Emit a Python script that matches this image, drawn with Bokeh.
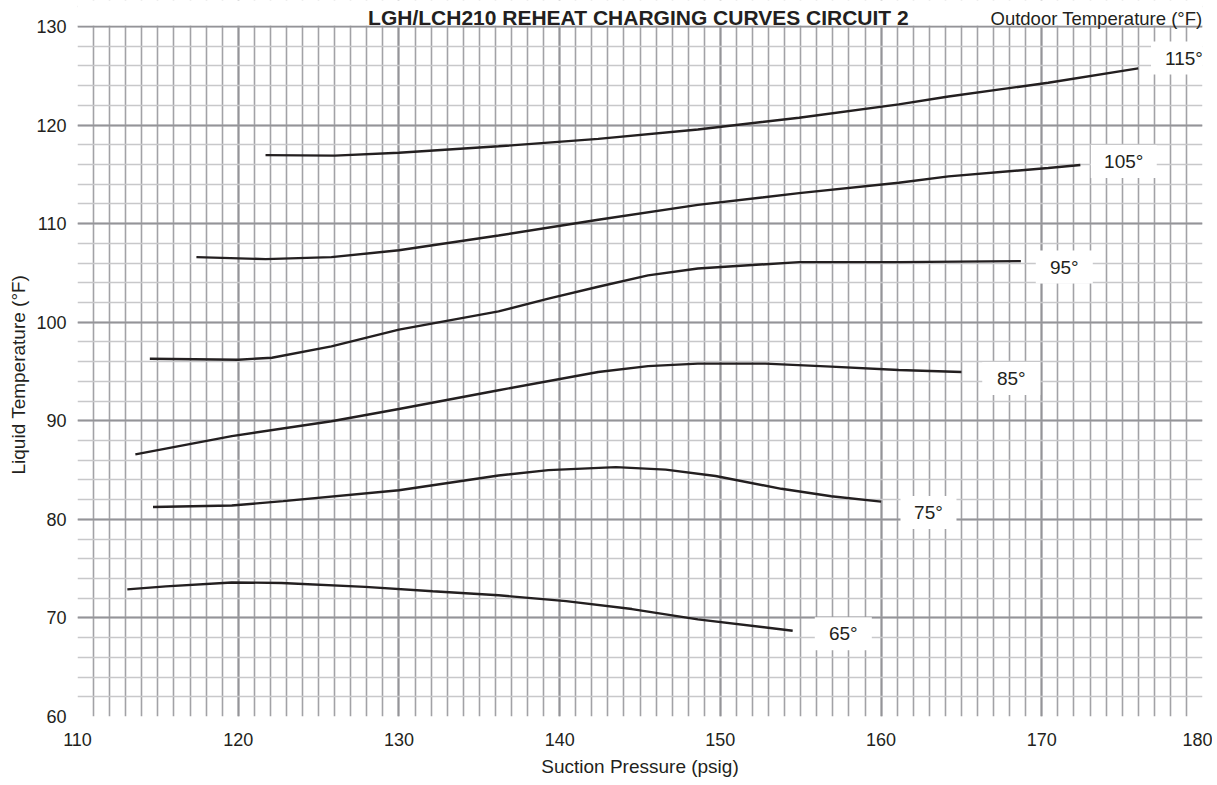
from bokeh.plotting import figure
from bokeh.models import Range1d, SingleIntervalTicker, Label, Title
from bokeh.embed import file_html
from bokeh.resources import INLINE

# ---- data ----
p115 = [121.7, 126.0, 130.0, 136.2, 142.4, 148.6, 154.9, 161.1, 164.2, 170.4, 176.0]
t115 = [116.95, 116.9, 117.2, 117.85, 118.6, 119.55, 120.75, 122.1, 122.9, 124.3, 125.75]

p105 = [117.4, 121.7, 125.8, 130.0, 136.2, 142.4, 148.6, 154.9, 161.1, 164.2, 170.4, 172.4]
t105 = [106.6, 106.4, 106.6, 107.3, 108.8, 110.4, 111.9, 113.1, 114.15, 114.8, 115.65, 115.95]

p95 = [114.5, 120.0, 122.1, 125.8, 130.0, 136.2, 139.3, 142.4, 145.5, 148.6, 154.9, 161.1, 168.7]
t95 = [96.3, 96.2, 96.4, 97.55, 99.25, 101.1, 102.4, 103.6, 104.75, 105.45, 106.1, 106.1, 106.2]

p85 = [113.6, 119.6, 125.8, 130.0, 136.2, 142.4, 145.5, 148.6, 152.8, 156.9, 161.1, 165.0]
t85 = [86.6, 88.45, 89.95, 91.2, 93.1, 94.95, 95.55, 95.8, 95.8, 95.5, 95.15, 94.95]

p75 = [114.7, 119.6, 122.8, 130.0, 136.2, 139.3, 143.5, 146.6, 149.7, 153.8, 156.9, 160.0]
t75 = [81.25, 81.4, 81.85, 82.95, 84.45, 85.0, 85.3, 85.05, 84.4, 83.1, 82.35, 81.8]

p65 = [113.1, 115.5, 119.6, 122.7, 127.9, 132.1, 136.2, 140.4, 144.5, 148.6, 154.5]
t65 = [72.9, 73.2, 73.6, 73.55, 73.15, 72.7, 72.3, 71.7, 70.9, 69.85, 68.7]

series = [("115°", p115, t115), ("105°", p105, t105), ("95°", p95, t95),
          ("85°", p85, t85), ("75°", p75, t75), ("65°", p65, t65)]

# curve label positions (data coords) and box widths (px)
lab_x = [178.85, 175.1, 171.4, 168.1, 162.95, 157.65]
lab_y = [126.8, 116.3, 105.6, 94.3, 80.7, 68.4]
box_w = [66, 66, 57, 58, 56, 57]

title_text = "LGH/LCH210 REHEAT CHARGING CURVES CIRCUIT 2"
legend_title = "Outdoor Temperature (°F)"
x_title = "Suction Pressure (psig)"
y_title = "Liquid  Temperature  (°F)"

X_LO, X_HI = 110, 180
Y_LO, Y_HI = 60, 130
Y_TOP = 132.64          # head-room above the grid for the title line

FONT = "Liberation Sans"
INK = "#231f20"

p = figure(width=1212, height=783, x_range=Range1d(X_LO, X_HI), y_range=Range1d(Y_LO, Y_TOP),
           output_backend="svg", toolbar_location=None,
           min_border_left=77, min_border_right=10, min_border_top=0, min_border_bottom=67)
p.title.visible = False
p.outline_line_color = None
p.background_fill_color = "white"
p.border_fill_color = "white"

p.xaxis.ticker = SingleIntervalTicker(interval=10, num_minor_ticks=10)
p.yaxis.ticker = SingleIntervalTicker(interval=10, num_minor_ticks=5)
for ax in (p.xaxis[0], p.yaxis[0]):
    ax.axis_line_color = None
    ax.major_tick_line_color = None
    ax.minor_tick_line_color = None
    ax.major_tick_out = 0
    ax.major_tick_in = 0
    ax.minor_tick_out = 0
    ax.minor_tick_in = 0
    ax.major_label_text_font = FONT
    ax.major_label_text_font_size = "18px"
    ax.major_label_text_color = INK
p.xaxis.major_label_standoff = 16
p.yaxis.major_label_standoff = 11

p.xaxis.axis_label = x_title
p.xaxis.axis_label_text_font = FONT
p.xaxis.axis_label_text_font_size = "19px"
p.xaxis.axis_label_text_font_style = "normal"
p.xaxis.axis_label_text_color = INK
p.xaxis.axis_label_standoff = 7

p.add_layout(Title(text=y_title, align="left", offset=242, text_font=FONT,
                   text_font_size="19px", text_font_style="normal", text_color=INK,
                   standoff=10), "left")

p.xgrid.grid_line_color = "#949498"
p.xgrid.grid_line_width = 2
p.xgrid.minor_grid_line_color = "#a2a2a6"
p.xgrid.minor_grid_line_width = 1.6
p.ygrid.grid_line_color = "#949498"
p.ygrid.grid_line_width = 2
p.ygrid.minor_grid_line_color = "#c8c8ca"
p.ygrid.minor_grid_line_width = 1.6

# white band that hides the grid above the top of the chart
p.quad(left=X_LO, right=X_HI, bottom=Y_HI + 0.1, top=Y_TOP, fill_color="white", line_color=None)

for name, xs, ys in series:
    p.line(xs, ys, line_color=INK, line_width=2.4)

p.rect(x=lab_x, y=lab_y, width=box_w, height=33, width_units="screen", height_units="screen",
       fill_color="white", line_color=None)

for (name, _, _), lx, ly in zip(series, lab_x, lab_y):
    p.add_layout(Label(x=lx, y=ly, text=name, text_align="center", text_baseline="middle",
                       text_font=FONT, text_font_size="19px", text_color=INK))

p.add_layout(Label(x=144.9, y=130.93, text=title_text, text_align="center",
                   text_baseline="alphabetic", text_font=FONT, text_font_size="21px",
                   text_font_style="bold", text_color=INK))
p.add_layout(Label(x=X_HI, y=130.85, text=legend_title, text_align="right",
                   text_baseline="alphabetic", text_font=FONT, text_font_size="18.5px",
                   text_color=INK))

open("out.html", "w").write(file_html(p, INLINE))
